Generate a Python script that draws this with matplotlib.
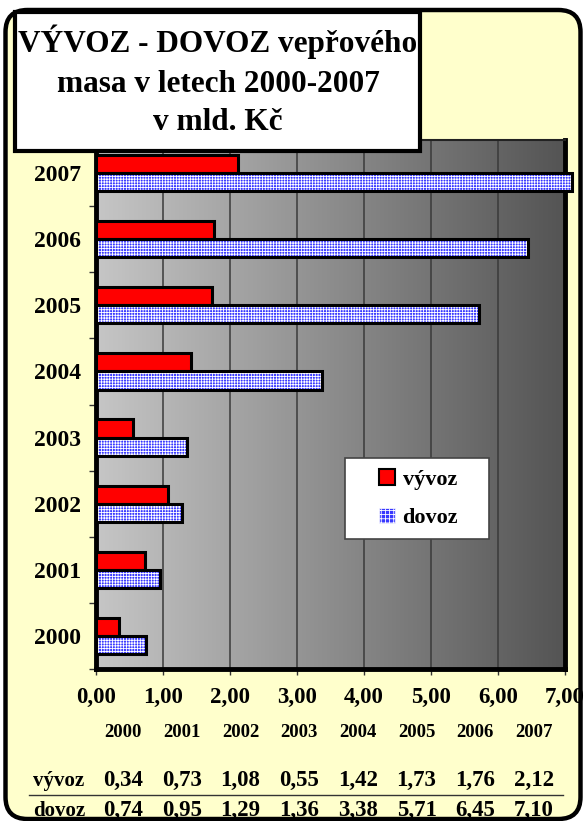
import numpy as np
import matplotlib
matplotlib.use("Agg")
import matplotlib.pyplot as plt
from matplotlib.colors import LinearSegmentedColormap
from matplotlib.patches import FancyBboxPatch, Rectangle, Patch

# data
years = ["2000", "2001", "2002", "2003", "2004", "2005", "2006", "2007"]
vyvoz = [0.34, 0.73, 1.08, 0.55, 1.42, 1.73, 1.76, 2.12]
dovoz = [0.74, 0.95, 1.29, 1.36, 3.38, 5.71, 6.45, 7.10]
x_ticks = [0, 1, 2, 3, 4, 5, 6, 7]
title_lines = ["VÝVOZ - DOVOZ vepřového", "masa v letech 2000-2007", "v mld. Kč"]

W, H = 585, 821
YELLOW = "#FFFFCC"
RED = "#FF0000"
BLUE = "#3838FF"
FONT = "Liberation Serif"

plt.rcParams["font.family"] = FONT
plt.rcParams["font.weight"] = "bold"
plt.rcParams["hatch.linewidth"] = 0.6


def fx(px):
    return px / W


def fy(py):
    return 1 - py / H


def cz(v):
    return f"{v:.2f}".replace(".", ",")


fig = plt.figure(figsize=(W / 100, H / 100), dpi=100, facecolor="white")

# background canvas in pixel coords
bg = fig.add_axes([0, 0, 1, 1], zorder=0)
bg.set_xlim(0, W)
bg.set_ylim(H, 0)
bg.axis("off")
bg.add_patch(FancyBboxPatch((5.5, 10), 575, 809,
                            boxstyle="round,pad=0,rounding_size=22",
                            facecolor=YELLOW, edgecolor="black", lw=3.2))

# main chart
ax = fig.add_axes([fx(96), fy(669), fx(565) - fx(96), fy(140) - fy(669)], zorder=1)
ypos = np.arange(len(years))
ax.set_xlim(0, 7)
ax.set_ylim(-0.5, len(years) - 0.5)

cmap = LinearSegmentedColormap.from_list("g", ["#c6c6c6", "#545454"])
ax.imshow(np.linspace(0, 1, 256).reshape(1, -1), cmap=cmap, aspect="auto",
          extent=[0, 7, -0.5, len(years) - 0.5], zorder=0)
for t in x_ticks[1:-1]:
    ax.axvline(t, color="#3a3a3a", lw=1.1, zorder=1)

bh = 0.275
ax.barh(ypos + bh / 2, vyvoz, height=bh, color=RED, edgecolor="black",
        lw=2.2, zorder=3, clip_on=False)
ax.barh(ypos - bh / 2, dovoz, height=bh, color=BLUE, edgecolor="white",
        hatch="++++++", lw=0, zorder=3, clip_on=False)
ax.barh(ypos - bh / 2, dovoz, height=bh, fill=False, edgecolor="black",
        lw=2.2, zorder=4, clip_on=False)

ax.set_xticks(x_ticks)
ax.set_xticklabels([cz(v) for v in x_ticks], fontsize=16.5)
ax.set_yticks(ypos)
ax.set_yticklabels(years, fontsize=17)
ax.set_yticks(np.arange(-0.5, len(years)), minor=True)
ax.tick_params(axis="y", which="major", length=0, pad=11)
ax.tick_params(axis="y", which="minor", length=5, width=1, color="#333333")
ax.tick_params(axis="x", length=4, width=1, color="#333333", pad=9)

for side in ["left", "right", "bottom"]:
    ax.spines[side].set_linewidth(3.5)
    ax.spines[side].set_color("black")
ax.spines["top"].set_linewidth(1.5)
ax.spines["top"].set_color("#222222")

# legend: white box drawn separately so it can be wider than its content
lx0, lx1, ly0, ly1 = 345, 489, 458, 539
ax.add_patch(Rectangle(((lx0 - 96) / 469, (669 - ly1) / 529),
                       (lx1 - lx0) / 469, (ly1 - ly0) / 529,
                       transform=ax.transAxes, facecolor="white",
                       edgecolor="#444444", lw=1.2, zorder=5))
handles = [Patch(facecolor=RED, edgecolor="black", lw=1.5, label="vývoz"),
           Patch(facecolor=BLUE, edgecolor="white", hatch="++++", lw=0.5, label="dovoz")]
leg = ax.legend(handles=handles, loc="center", bbox_to_anchor=(0.688, 0.322),
                prop={"family": FONT, "weight": "bold", "size": 16},
                frameon=False, handlelength=0.7, handleheight=0.7,
                handletextpad=0.35, labelspacing=0.8, borderpad=0, borderaxespad=0)
leg.set_zorder(6)

# overlay: title box and data table
ov = fig.add_axes([0, 0, 1, 1], zorder=3)
ov.set_xlim(0, W)
ov.set_ylim(H, 0)
ov.axis("off")
ov.add_patch(Rectangle((15, 12), 405, 139, facecolor="white", edgecolor="black", lw=3))
for yb, line in zip([52, 92, 130], title_lines):
    ov.text(218, yb, line, ha="center", va="baseline", fontsize=22.5,
            fontweight="bold", family=FONT)

col_x = [123 + 58.7 * i for i in range(len(years))]
for x, yr, v, d in zip(col_x, years, vyvoz, dovoz):
    ov.text(x, 737, yr, ha="center", va="baseline", fontsize=13.5, fontweight="bold")
    ov.text(x, 786, cz(v), ha="center", va="baseline", fontsize=16.5, fontweight="bold")
    ov.text(x, 816, cz(d), ha="center", va="baseline", fontsize=16.5, fontweight="bold")
ov.text(33, 786, "vývoz", ha="left", va="baseline", fontsize=15, fontweight="bold")
ov.text(33, 816, "dovoz", ha="left", va="baseline", fontsize=15, fontweight="bold")
ov.plot([29, 563], [795, 795], color="#333333", lw=1)

fig.savefig("out.png", dpi=100, facecolor="white")
